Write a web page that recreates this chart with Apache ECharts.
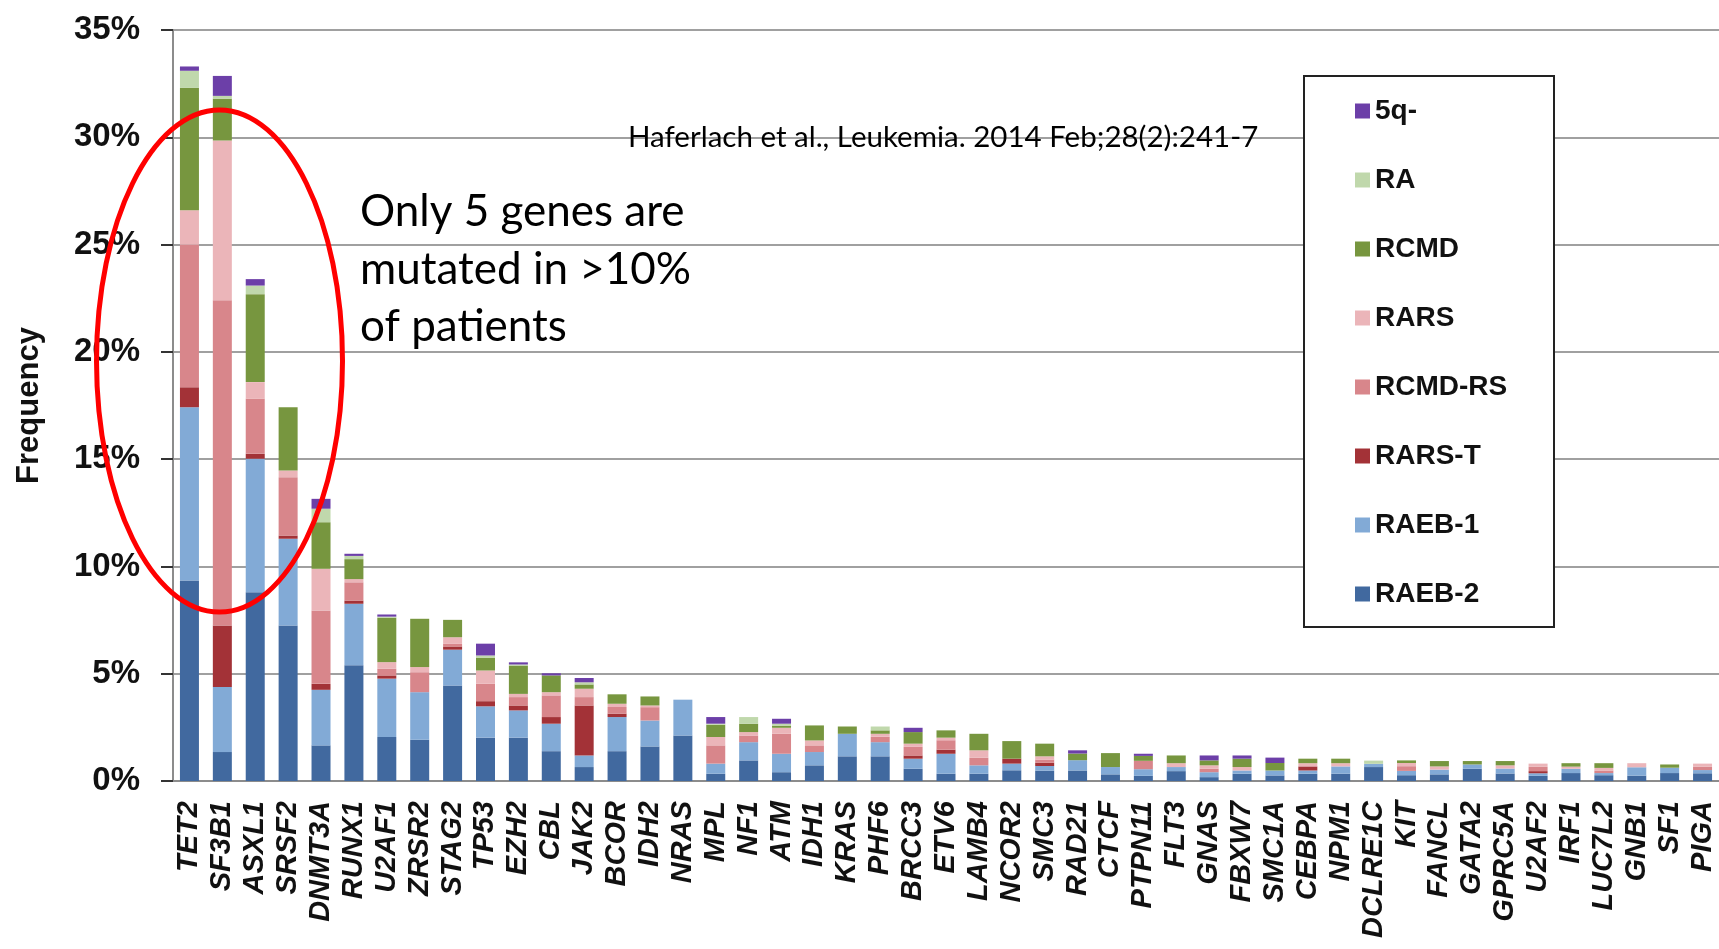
<!DOCTYPE html>
<html>
<head>
<meta charset="utf-8">
<title>MDS gene mutation frequency</title>
<script src="https://cdn.jsdelivr.net/npm/echarts@6/dist/echarts.min.js"></script>
<style>
  html, body { margin: 0; padding: 0; background: #fff; }
  #chart { width: 1719px; height: 949px; }
</style>
</head>
<body>
<div id="chart"></div>
<script>
const genes = ['TET2', 'SF3B1', 'ASXL1', 'SRSF2', 'DNMT3A', 'RUNX1', 'U2AF1', 'ZRSR2', 'STAG2', 'TP53',
  'EZH2', 'CBL', 'JAK2', 'BCOR', 'IDH2', 'NRAS', 'MPL', 'NF1', 'ATM', 'IDH1',
  'KRAS', 'PHF6', 'BRCC3', 'ETV6', 'LAMB4', 'NCOR2', 'SMC3', 'RAD21', 'CTCF', 'PTPN11',
  'FLT3', 'GNAS', 'FBXW7', 'SMC1A', 'CEBPA', 'NPM1', 'DCLRE1C', 'KIT', 'FANCL', 'GATA2',
  'GPRC5A', 'U2AF2', 'IRF1', 'LUC7L2', 'GNB1', 'SF1', 'PIGA'];

// frequency (%) per subtype, stacked bottom -> top
const raeb2 = [9.35, 1.35, 8.8, 7.25, 1.66, 5.39, 2.05, 1.92, 4.45, 2.02, 2.02, 1.39, 0.65, 1.39, 1.61, 2.12, 0.34, 0.96, 0.41, 0.73,
  1.15, 1.15, 0.57, 0.34, 0.34, 0.5, 0.48, 0.49, 0.31, 0.24, 0.46, 0.18, 0.34, 0.26, 0.34, 0.34, 0.65, 0.27, 0.31, 0.57,
  0.35, 0.24, 0.37, 0.27, 0.25, 0.37, 0.36];
const raeb1 = [8.07, 3.03, 6.22, 4.04, 2.59, 2.87, 2.72, 2.22, 1.67, 1.46, 1.27, 1.28, 0.54, 1.59, 1.21, 1.67, 0.47, 0.85, 0.86, 0.62,
  1.05, 0.66, 0.47, 0.93, 0.39, 0.31, 0.22, 0.48, 0.34, 0.31, 0.19, 0.23, 0.15, 0.23, 0.15, 0.34, 0.15, 0.2, 0.22, 0.2,
  0.23, 0.12, 0.2, 0.1, 0.39, 0.25, 0.15];
const rarsT = [0.93, 2.87, 0.23, 0.15, 0.28, 0.15, 0.15, 0, 0.15, 0.24, 0.23, 0.31, 2.33, 0.16, 0, 0, 0, 0, 0, 0,
  0, 0, 0.15, 0.19, 0, 0.23, 0.15, 0, 0, 0, 0, 0, 0, 0, 0.19, 0, 0, 0, 0, 0,
  0, 0.1, 0, 0, 0, 0, 0];
const rcmdRs = [6.65, 15.15, 2.56, 2.72, 3.42, 0.85, 0.31, 0.93, 0.12, 0.81, 0.39, 1.01, 0.39, 0.31, 0.62, 0, 0.85, 0.31, 0.93, 0.31,
  0, 0.25, 0.4, 0.44, 0.35, 0, 0.15, 0, 0, 0.39, 0, 0.16, 0, 0, 0, 0, 0, 0.22, 0, 0,
  0, 0.2, 0, 0.12, 0, 0, 0.15];
const rars = [1.6, 7.45, 0.78, 0.31, 1.94, 0.15, 0.31, 0.24, 0.31, 0.62, 0.15, 0.15, 0.39, 0.15, 0.08, 0, 0.39, 0.16, 0.28, 0.23,
  0, 0.14, 0.15, 0.12, 0.35, 0, 0.15, 0, 0, 0, 0.18, 0.16, 0.16, 0, 0.15, 0.15, 0, 0.15, 0.15, 0,
  0.15, 0.15, 0.1, 0.12, 0.19, 0, 0.15];
const rcmd = [5.7, 1.95, 4.1, 2.95, 2.17, 0.93, 2.07, 2.25, 0.81, 0.6, 1.32, 0.78, 0.2, 0.44, 0.42, 0, 0.57, 0.39, 0.1, 0.7,
  0.34, 0.16, 0.54, 0.34, 0.77, 0.82, 0.59, 0.31, 0.65, 0.23, 0.36, 0.23, 0.39, 0.35, 0.21, 0.21, 0, 0.12, 0.25, 0.16,
  0.2, 0, 0.16, 0.22, 0, 0.15, 0];
const ra = [0.8, 0.13, 0.4, 0, 0.63, 0.15, 0.05, 0, 0, 0.1, 0.05, 0, 0.1, 0, 0, 0, 0.05, 0.31, 0.09, 0,
  0, 0.18, 0, 0, 0, 0, 0, 0, 0, 0, 0, 0, 0, 0, 0, 0, 0.15, 0, 0, 0,
  0, 0, 0, 0, 0, 0, 0];
const q5 = [0.2, 0.93, 0.3, 0, 0.46, 0.1, 0.1, 0, 0, 0.55, 0.1, 0.1, 0.2, 0, 0, 0, 0.31, 0, 0.23, 0,
  0, 0, 0.2, 0, 0, 0, 0, 0.15, 0, 0.1, 0, 0.23, 0.15, 0.25, 0, 0, 0, 0, 0, 0,
  0, 0, 0, 0, 0, 0, 0];

const yTicks = [0, 5, 10, 15, 20, 25, 30, 35];

const subtypes = [
  { name: 'RAEB-2', data: raeb2, color: '#41699f' },
  { name: 'RAEB-1', data: raeb1, color: '#82aad6' },
  { name: 'RARS-T', data: rarsT, color: '#a33237' },
  { name: 'RCMD-RS', data: rcmdRs, color: '#d8868b' },
  { name: 'RARS', data: rars, color: '#ebb5b9' },
  { name: 'RCMD', data: rcmd, color: '#77963f' },
  { name: 'RA', data: ra, color: '#c0d8ac' },
  { name: '5q-', data: q5, color: '#6c3fa8' }
];

const option = {
  backgroundColor: '#fff',
  animation: false,
  grid: { left: 173, top: 30, width: 1550, bottom: 168 },
  legend: {
    orient: 'vertical',
    left: 1355,
    top: 97,
    padding: 0,
    itemWidth: 15,
    itemHeight: 15,
    itemGap: 41,
    icon: 'rect',
    z: 10,
    data: subtypes.map(s => s.name).reverse(),
    textStyle: { fontFamily: 'Liberation Sans', fontWeight: 'bold', fontSize: 28, lineHeight: 28, color: '#111' }
  },
  xAxis: {
    type: 'category',
    data: genes,
    axisLine: { lineStyle: { color: '#8c8c8c', width: 2 } },
    axisTick: { show: false },
    axisLabel: {
      interval: 0,
      rotate: 90,
      margin: 20,
      fontFamily: 'Liberation Sans',
      fontWeight: 'bold',
      fontStyle: 'italic',
      fontSize: 29,
      color: '#111'
    }
  },
  yAxis: {
    type: 'value',
    min: yTicks[0],
    max: yTicks[yTicks.length - 1],
    interval: 5,
    name: 'Frequency',
    nameLocation: 'middle',
    nameRotate: 90,
    nameGap: 128,
    nameTextStyle: { fontFamily: 'Liberation Sans', fontWeight: 'bold', fontSize: 31, color: '#111' },
    axisLine: { show: true, lineStyle: { color: '#8c8c8c', width: 2 } },
    axisTick: { show: true, length: 12, lineStyle: { color: '#333', width: 2 } },
    axisLabel: {
      formatter: '{value}%',
      margin: 33,
      fontFamily: 'Liberation Sans',
      fontWeight: 'bold',
      fontSize: 33,
      color: '#111'
    },
    splitLine: { lineStyle: { color: '#a0a0a0', width: 2 } }
  },
  series: subtypes.map(s => ({
    name: s.name,
    type: 'bar',
    stack: 'total',
    barWidth: 19,
    data: s.data,
    itemStyle: { color: s.color }
  })),
  graphic: [
    {
      type: 'rect',
      z: 5,
      shape: { x: 1304, y: 76, width: 250, height: 551 },
      style: { fill: '#fff', stroke: '#222', lineWidth: 2 }
    },
    {
      type: 'ellipse',
      z: 20,
      shape: { cx: 219.5, cy: 361, rx: 123, ry: 251 },
      style: { fill: 'none', stroke: '#ff0000', lineWidth: 5 }
    },
    {
      type: 'text',
      z: 20,
      x: 360,
      y: 183,
      style: {
        text: 'Only 5 genes are\nmutated in >10%\nof patients',
        fontFamily: 'Lato',
        fontSize: 44,
        lineHeight: 57.6,
        fill: '#000'
      }
    },
    {
      type: 'text',
      z: 20,
      x: 628,
      y: 122,
      style: {
        text: 'Haferlach et al., Leukemia. 2014 Feb;28(2):241-7',
        fontFamily: 'Lato',
        fontSize: 29.5,
        fill: '#000'
      }
    }
  ]
};

const chart = echarts.init(document.getElementById('chart'));
chart.setOption(option);
</script>
</body>
</html>
